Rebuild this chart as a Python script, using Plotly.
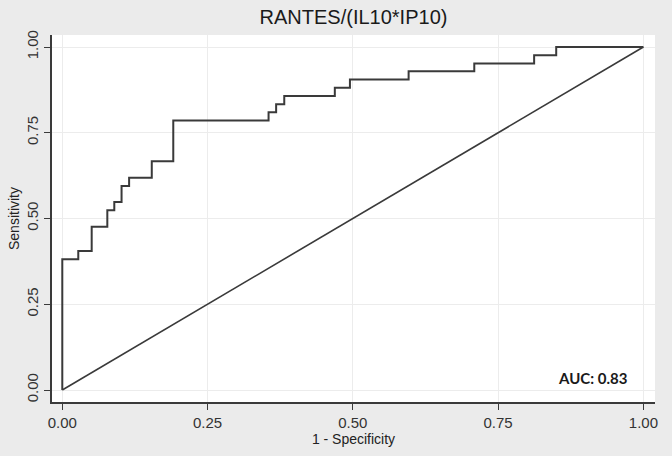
import plotly.graph_objects as go

# ROC step points (1 - specificity, sensitivity)
fpr = [0, 0, 0.0275, 0.0506, 0.0775, 0.0895, 0.102, 0.115, 0.154, 0.191,
       0.355, 0.368, 0.382, 0.469, 0.495, 0.596, 0.709, 0.812, 0.850, 1.0]
tpr = [0, 0.381, 0.405, 0.476, 0.524, 0.548, 0.595, 0.619, 0.667, 0.786,
       0.810, 0.833, 0.857, 0.881, 0.905, 0.929, 0.952, 0.976, 1.0, 1.0]
ref_x = [0, 1]
ref_y = [0, 1]
ticks = [0, 0.25, 0.5, 0.75, 1.0]
tick_labels = ["0.00", "0.25", "0.50", "0.75", "1.00"]
auc_text = "AUC: 0.83"

ink = "#3a3a3a"
font = "Liberation Sans, Arial, sans-serif"

fig = go.Figure()
fig.add_trace(go.Scatter(x=fpr, y=tpr, mode="lines", line_shape="hv",
                         line=dict(color=ink, width=2), showlegend=False))
fig.add_trace(go.Scatter(x=ref_x, y=ref_y, mode="lines",
                         line=dict(color=ink, width=1.6), showlegend=False))

fig.add_annotation(x=0.912, y=0.035, xref="x", yref="y", text="<b>" + auc_text + "</b>",
                   showarrow=False, font=dict(family="Lato, Carlito, sans-serif", size=15, color="#1a1a1a"))

axis_common = dict(
    tickvals=ticks, ticktext=tick_labels, showgrid=True, gridcolor="#ececec", gridwidth=1,
    zeroline=False, showline=True, linecolor=ink, linewidth=1.5, automargin=False,
    ticks="outside", ticklen=6, tickwidth=1.3, tickcolor=ink,
    tickfont=dict(family=font, size=15, color="#333333"),
)

fig.update_xaxes(range=[-0.0177, 1.020], title=dict(text="1 - Specificity", standoff=4,
                 font=dict(family=font, size=14, color="#222222")), **axis_common)
fig.update_yaxes(range=[-0.035, 1.035], tickangle=-90, title=dict(text="Sensitivity", standoff=1,
                 font=dict(family=font, size=14, color="#222222")), **axis_common)

fig.update_layout(
    width=672, height=456,
    margin=dict(l=52, r=17, t=35, b=54),
    paper_bgcolor="#ebebeb", plot_bgcolor="white",
    title=dict(text="RANTES/(IL10*IP10)", x=0.5, xref="paper", y=0.963, yanchor="middle",
               font=dict(family=font, size=20, color="#1a1a1a")),
)
# drop the page's default body margin so the figure sits at the window corner
fig.write_html("out.html", config={"displayModeBar": False},
               post_script="document.body.style.margin='0';")
